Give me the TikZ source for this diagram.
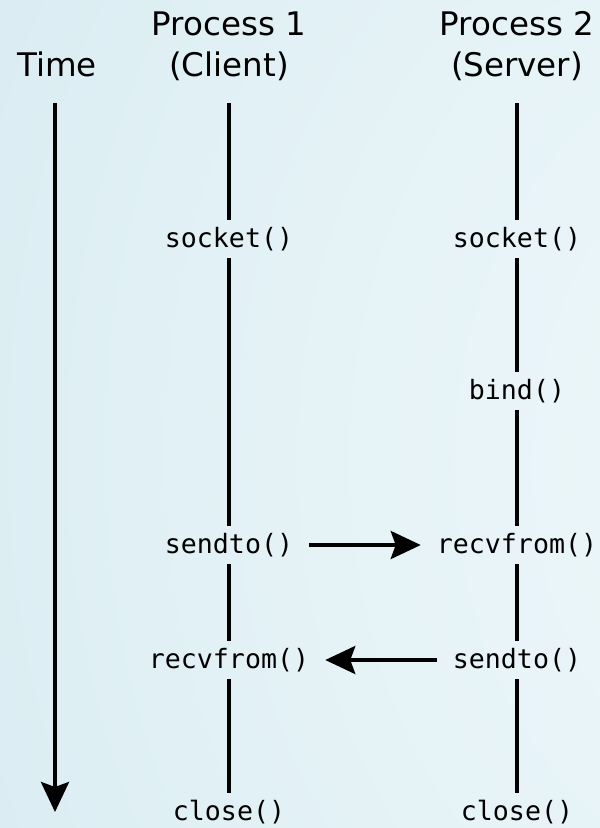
\documentclass[tikz,border=0pt]{standalone}
\usepackage{fontspec}
\setmainfont{DejaVu Sans}
\setmonofont{DejaVu Sans Mono}
\usetikzlibrary{arrows.meta}

\definecolor{bgA}{HTML}{F0F8FB}
\definecolor{bgB}{HTML}{E4F2F6}
\definecolor{bgC}{HTML}{D3E9F0}
\definecolor{bgD}{HTML}{CBE5EE}
% soft light spot towards the right, fading to blue at the left edge
\pgfdeclareradialshading{bgglow}{\pgfpoint{50bp}{-4bp}}{%
  color(0bp)=(bgA); color(35bp)=(bgB); color(70bp)=(bgC); color(100bp)=(bgD)}

\tikzset{
  head/.style={font=\fontsize{32.5}{41}\selectfont, inner sep=0pt, anchor=base},
  call/.style={font=\fontsize{26.6}{30}\selectfont\ttfamily, rectangle,
               minimum height=38pt, inner xsep=16pt, inner ysep=0pt},
  life/.style={line width=3.8pt},
  msg/.style={line width=3.8pt, -{Stealth[length=30pt, width=28pt, inset=5pt]}},
}

\begin{document}
\begin{tikzpicture}[x=1pt, y=-1pt]
  \useasboundingbox (0,0) rectangle (600,828);
  \shade[shading=bgglow] (0,0) rectangle (600,828);

  % column headings
  \node[head] (time)  at (57,76)  {Time};
  \node[head] (p1a)   at (229,35) {Process 1};
  \node[head] (p1b)   at (229,76) {(Client)};
  \node[head] (p2a)   at (517,35) {Process 2};
  \node[head] (p2b)   at (517,76) {(Server)};

  % tops of the lifelines and the time axis
  \coordinate (t0) at (55,103);
  \coordinate (t1) at (55,812);
  \coordinate (c0) at (229,103);
  \coordinate (s0) at (517,103);

  % client calls
  \node[call] (csock)  at (229,239) {socket()};
  \node[call] (csend)  at (229,545) {sendto()};
  \node[call] (crecv)  at (229,660) {recvfrom()};
  \node[call] (cclose) at (229,812) {close()};

  % server calls
  \node[call] (ssock)  at (517,239) {socket()};
  \node[call] (sbind)  at (517,391) {bind()};
  \node[call] (srecv)  at (517,545) {recvfrom()};
  \node[call] (ssend)  at (517,660) {sendto()};
  \node[call] (sclose) at (517,812) {close()};

  % time axis
  \draw[msg] (t0) -- (t1);

  % lifelines
  \draw[life] (c0) -- (csock) -- (csend) -- (crecv) -- (cclose);
  \draw[life] (s0) -- (ssock) -- (sbind) -- (srecv) -- (ssend) -- (sclose);

  % datagrams
  \draw[msg] (csend) -- (srecv);
  \draw[msg] (ssend) -- (crecv);
\end{tikzpicture}
\end{document}
